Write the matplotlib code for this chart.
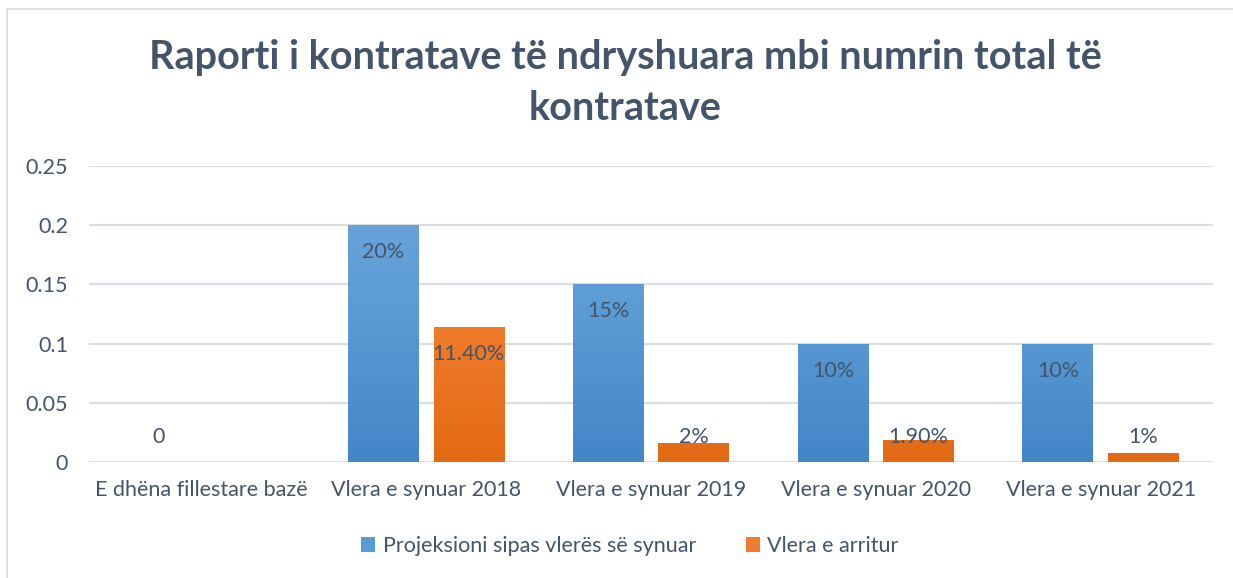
import numpy as np
import matplotlib
matplotlib.use("Agg")
import matplotlib.pyplot as plt
from matplotlib.patches import Patch, Rectangle
from matplotlib.colors import LinearSegmentedColormap

# Data
categories = ["E dhëna fillestare bazë", "Vlera e synuar 2018", "Vlera e synuar 2019",
              "Vlera e synuar 2020", "Vlera e synuar 2021"]
target_values = [0, 0.20, 0.15, 0.10, 0.10]
target_labels = ["0", "20%", "15%", "10%", "10%"]
achieved_values = [np.nan, 0.114, 0.016, 0.019, 0.008]
achieved_labels = [None, "11.40%", "2%", "1.90%", "1%"]
series_names = ["Projeksioni sipas vlerës së synuar", "Vlera e arritur"]
title = "Raporti i kontratave të ndryshuara mbi numrin total të\nkontratave"

TEXT = "#44546A"
GRID = "#D9DEE4"
FONT = "Lato"
FS = 15.5

W, H = 1233, 578
fig = plt.figure(figsize=(W / 100, H / 100), dpi=100)
ax = fig.add_axes([89 / W, 1 - 462 / H, (1213 - 89) / W, (462 - 166) / H])

# chart frame (left + top edges visible)
fig.patches.append(Rectangle((7 / W, -0.1), 1.2, 1 - 9 / H + 0.1, transform=fig.transFigure,
                             fill=False, edgecolor="#D9D9D9", linewidth=1.2))

x = np.arange(len(categories))
width = 0.315
offset = 0.19

blue_cmap = LinearSegmentedColormap.from_list("b", ["#4386C8", "#5B9BD5", "#71A7DC"])
orange_cmap = LinearSegmentedColormap.from_list("o", ["#E36A14", "#F07D2E", "#F28E56"])


def gradient_bars(xpos, vals, cmap):
    bars = ax.bar(xpos, np.nan_to_num(vals), width, color="none", edgecolor="none", zorder=2)
    grad = np.linspace(0, 1, 256).reshape(-1, 1)
    for b, v in zip(bars, vals):
        if np.isnan(v) or v == 0:
            continue
        x0 = b.get_x()
        im = ax.imshow(grad, cmap=cmap, origin="lower", aspect="auto",
                       extent=(x0, x0 + b.get_width(), 0, 0.25), zorder=2)
        im.set_clip_path(b)
    return bars


gradient_bars(x - offset, target_values, blue_cmap)
gradient_bars(x + offset, achieved_values, orange_cmap)

# data labels: inside end, kept above the baseline for short bars
for xpos, vals, labels in [(x - offset, target_values, target_labels),
                           (x + offset, achieved_values, achieved_labels)]:
    for xi, v, lab in zip(xpos, vals, labels):
        if lab is None:
            continue
        ly = max(v - 0.0228, 0.0211)
        ax.text(xi, ly, lab, ha="center", va="center", fontsize=FS, color=TEXT,
                family=FONT, zorder=3)

ax.set_xlim(-0.5, len(categories) - 0.5)
ax.set_ylim(0, 0.25)
ax.set_yticks([0, 0.05, 0.1, 0.15, 0.2, 0.25])
ax.set_yticklabels(["0", "0.05", "0.1", "0.15", "0.2", "0.25"])
ax.set_xticks(x)
ax.set_xticklabels(categories)
ax.tick_params(axis="both", length=0, labelsize=FS, labelcolor=TEXT)
ax.tick_params(axis="y", pad=15)
ax.tick_params(axis="x", pad=13)
for lbl in ax.get_xticklabels() + ax.get_yticklabels():
    lbl.set_family(FONT)
ax.grid(axis="y", color=GRID, linewidth=1.5, zorder=0)
ax.set_axisbelow(True)
for s in ax.spines.values():
    s.set_visible(False)

fig.text(625 / W, 1 - 83 / H, title, ha="center", va="center", fontsize=28.5,
         fontweight="bold", color=TEXT, family=FONT, linespacing=1.45)

handles = [Patch(facecolor="#5B9BD5"), Patch(facecolor="#ED7D31")]
leg = fig.legend(handles, series_names, loc="center", bbox_to_anchor=(630 / W, 1 - 546 / H),
                 ncol=2, frameon=False, prop={"family": FONT, "size": FS},
                 handlelength=0.65, handleheight=0.65, handletextpad=0.35, columnspacing=2.3)
for t in leg.get_texts():
    t.set_color(TEXT)

fig.savefig("out.png", dpi=100, facecolor="white")
